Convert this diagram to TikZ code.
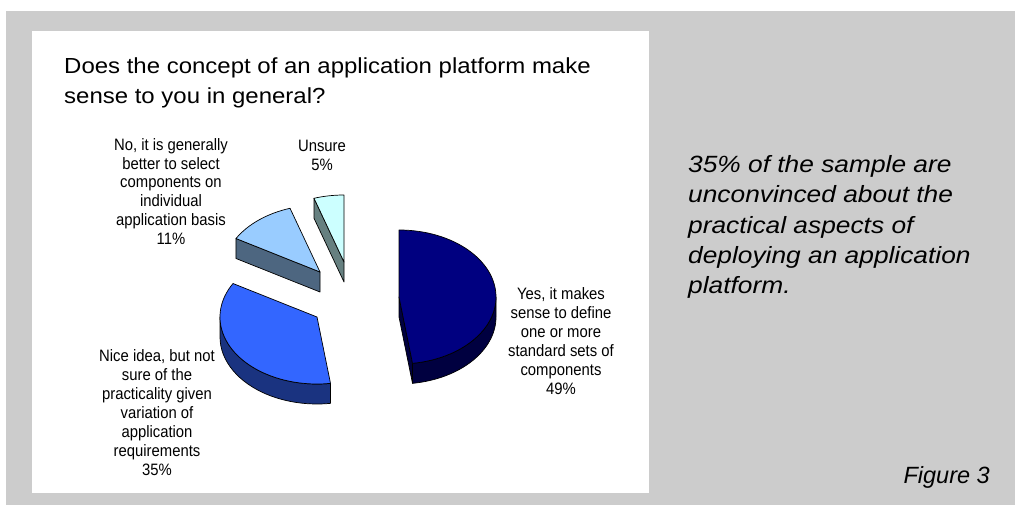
\documentclass[tikz,border=0pt]{standalone}
\usepackage{fontspec}
\setmainfont{Liberation Sans}
\newfontfamily\titlefont[FakeStretch=1.1]{Liberation Sans}
\newfontfamily\labelfont[FakeStretch=0.9]{Liberation Sans}
\newfontfamily\notefont[FakeStretch=1.12]{Liberation Sans}

\definecolor{panelgray}{HTML}{CCCCCC}
\definecolor{yestop}{HTML}{000080}
\definecolor{yesside}{HTML}{000040}
\definecolor{nicetop}{HTML}{3366FF}
\definecolor{niceside}{HTML}{1A3380}
\definecolor{notop}{HTML}{99CCFF}
\definecolor{noside}{HTML}{4D6680}
\definecolor{unsuretop}{HTML}{CCFFFF}
\definecolor{unsureside}{HTML}{668080}

\begin{document}
\begin{tikzpicture}[
        x=1pt, y=1pt,
        slice_edge/.style={
            draw=black,
            line width=0.7pt,
            line join=round
        },
        pie_arc/.style={
            x radius=97,
            y radius=67
        },
        pie_label/.style={
            align=center,
            anchor=base,
            inner sep=0pt,
            font=\labelfont\fontsize{16.5}{19}\selectfont
        },
        title_text/.style={
            align=left,
            anchor=base west,
            inner sep=0pt,
            font=\titlefont\fontsize{21.8}{30}\selectfont
        },
        note_text/.style={
            align=left,
            anchor=base west,
            inner sep=0pt,
            font=\notefont\itshape\fontsize{23.5}{30}\selectfont
        }
    ]
        \useasboundingbox (0,0) rectangle (1015,-505);
        \fill[panelgray] (6,-11) rectangle (1015,-505);
        \fill[white] (32,-31) rectangle (649,-493);

        \coordinate (unsure_c) at (344,-262);
        \coordinate (no_c) at (320,-272);
        \coordinate (nice_c) at (317,-317);
        \coordinate (yes_c) at (399,-297);

        % Unsure 5%
        \draw[slice_edge, fill=unsureside] (unsure_c) -- ++(108:97 and 67) -- ++(0,-20) -- ([yshift=-20pt]unsure_c) -- cycle;
        \draw[slice_edge, fill=unsuretop] (unsure_c) -- ++(90:97 and 67) arc[start angle=90, end angle=108, pie_arc] -- cycle;

        % No 11%
        \draw[slice_edge, fill=noside] (no_c) -- ++(150:97 and 67) -- ++(0,-20) -- ([yshift=-20pt]no_c) -- cycle;
        \draw[slice_edge, fill=notop] (no_c) -- ++(108:97 and 67) arc[start angle=108, end angle=150, pie_arc] -- cycle;

        % Nice idea 35%
        \draw[slice_edge, fill=niceside] (nice_c) ++(180:97 and 67) -- ++(0,-20) arc[start angle=180, end angle=278, pie_arc] -- ++(0,20) arc[start angle=278, end angle=180, pie_arc] -- cycle;
        \draw[slice_edge, fill=nicetop] (nice_c) -- ++(150:97 and 67) arc[start angle=150, end angle=278, pie_arc] -- cycle;

        % Yes 49%
        \draw[slice_edge, fill=yesside] (yes_c) -- ++(-82:97 and 67) -- ++(0,-20) -- ([yshift=-20pt]yes_c) -- cycle;
        \draw[slice_edge, fill=yesside] (yes_c) ++(0:97 and 67) -- ++(0,-20) arc[start angle=0, end angle=-82, pie_arc] -- ++(0,20) arc[start angle=-82, end angle=0, pie_arc] -- cycle;
        \draw[slice_edge, fill=yestop] (yes_c) -- ++(90:97 and 67) arc[start angle=90, end angle=-82, pie_arc] -- cycle;

        % base of a multi-line node = last line
        \node[title_text] (title) at (64,-104) {Does the concept of an application platform make\\sense to you in general?};

        \node[pie_label] (no_lbl) at (171,-245) {No, it is generally\\better to select\\components on\\individual\\application basis\\11\%};
        \node[pie_label] (unsure_lbl) at (322,-171) {Unsure\\5\%};
        \node[pie_label] (yes_lbl) at (561,-394) {Yes, it makes\\sense to define\\one or more\\standard sets of\\components\\49\%};
        \node[pie_label] (nice_lbl) at (157,-475) {Nice idea, but not\\sure of the\\practicality given\\variation of\\application\\requirements\\35\%};

        \node[note_text] (note) at (688,-293) {35\% of the sample are\\unconvinced about the\\practical aspects of\\deploying an application\\platform.};
        \node[anchor=base east, inner sep=0pt, font=\itshape\fontsize{23.5}{30}\selectfont] (fig_no) at (990,-483) {Figure 3};
    \end{tikzpicture}
\end{document}
